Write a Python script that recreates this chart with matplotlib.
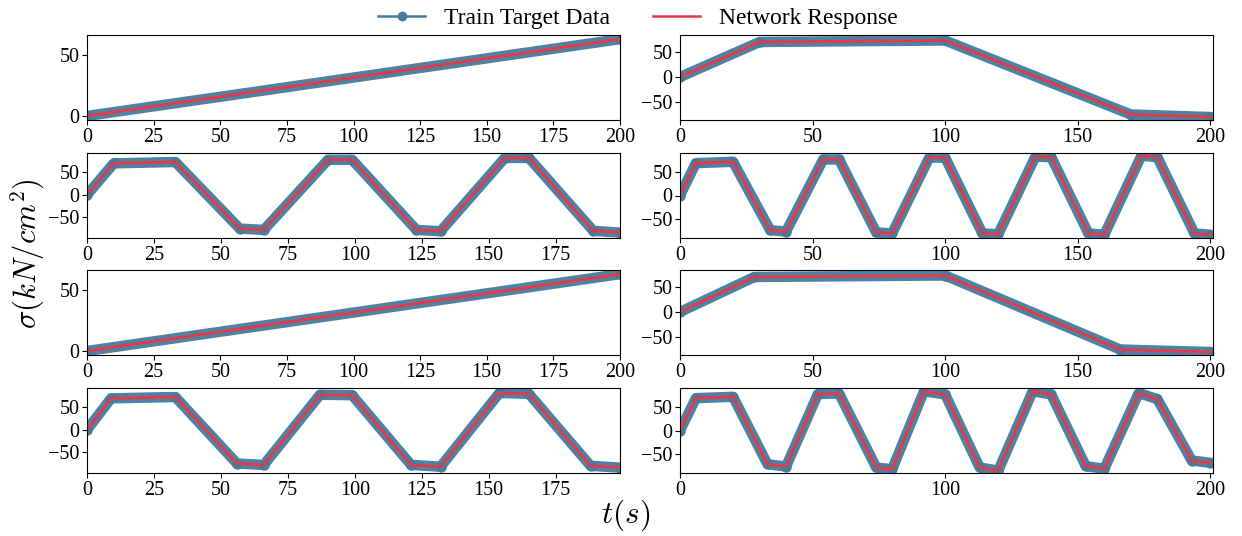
import numpy as np
import matplotlib
matplotlib.use("Agg")
import matplotlib.pyplot as plt
from matplotlib.lines import Line2D

plt.rcParams['font.family'] = ['Liberation Serif', 'DejaVu Serif']
plt.rcParams['mathtext.fontset'] = 'cm'

BLUE = '#457b9d'
RED = '#e63946'

# Knot points (time, stress) for each panel
t1 = [0, 200]
s1 = [0, 63]

t2 = [0, 30, 100, 170, 200]
s2 = [0, 70, 73, -75, -80]

t3 = [0, 10, 33, 57, 66, 90, 99, 123, 132, 156, 165, 189, 199]
s3 = [0, 70, 73, -75, -78, 78, 78, -78, -81, 82, 82, -80, -84]

t4 = [0, 6, 20, 34, 40, 54, 60, 74, 80, 94, 100, 114, 120, 134, 140, 154, 160, 174, 180, 194, 200]
s4 = [0, 70, 73, -75, -78, 78, 78, -80, -82, 82, 82, -82, -84, 84, 83, -82, -85, 86, 83, -82, -85]

t5 = [0, 200]
s5 = [0, 63]

t6 = [0, 28, 100, 166, 200]
s6 = [0, 70, 73, -75, -80]

t7 = [0, 9, 33, 56, 66, 87, 99, 121, 132, 154, 165, 188, 199]
s7 = [0, 70, 73, -75, -78, 78, 77, -78, -82, 82, 80, -80, -84]

t8 = [0, 6, 20, 33, 40, 52, 60, 74, 80, 92, 100, 113, 120, 133, 140, 153, 160, 173, 180, 193, 200]
s8 = [0, 70, 73, -73, -78, 79, 80, -80, -84, 85, 78, -80, -87, 85, 78, -77, -83, 81, 68, -65, -70]

panels = [
    (t1, s1, (0, 200), (-3.3, 66.4), [0, 25, 50, 75, 100, 125, 150, 175, 200], [0, 50]),
    (t2, s2, (0, 201), (-86, 84), [0, 50, 100, 150, 200], [-50, 0, 50]),
    (t3, s3, (0, 199), (-96, 93), [0, 25, 50, 75, 100, 125, 150, 175], [-50, 0, 50]),
    (t4, s4, (0, 201), (-92, 92), [0, 50, 100, 150, 200], [-50, 0, 50]),
    (t5, s5, (0, 200), (-3.3, 66.4), [0, 25, 50, 75, 100, 125, 150, 175, 200], [0, 50]),
    (t6, s6, (0, 201), (-86, 84), [0, 50, 100, 150, 200], [-50, 0, 50]),
    (t7, s7, (0, 199), (-96, 93), [0, 25, 50, 75, 100, 125, 150, 175], [-50, 0, 50]),
    (t8, s8, (0, 201), (-92, 92), [0, 100, 200], [-50, 0, 50]),
]

W, H = 1242, 536
fig = plt.figure(figsize=(W / 100, H / 100), dpi=100)

lefts = [87, 680]
width = 533
tops = [35, 153, 270, 388]
height = 85

for i, (tt, ss, xl, yl, xt, yt) in enumerate(panels):
    r, c = divmod(i, 2)
    ax = fig.add_axes([lefts[c] / W, 1 - (tops[r] + height) / H, width / W, height / H])
    ax.plot(tt, ss, '-', color=BLUE, lw=7.5, alpha=0.95, solid_capstyle='round', solid_joinstyle='round')
    ax.plot(tt, ss, 'o', color=BLUE, ms=7.5, mew=0, alpha=0.95)
    ax.plot(tt, ss, '-', color=RED, lw=2)
    ax.set_xlim(*xl)
    ax.set_ylim(*yl)
    ax.set_xticks(xt)
    ax.set_yticks(yt)
    ax.tick_params(labelsize=14.5, pad=2)

handles = [
    Line2D([], [], color=BLUE, lw=1.8, marker='o', ms=6),
    Line2D([], [], color=RED, lw=1.8),
]
fig.legend(handles, ['Train Target Data', 'Network Response'], loc='center',
           bbox_to_anchor=(638 / W, 1 - 18 / H), ncol=2, frameon=False, fontsize=17,
           columnspacing=1.8, handlelength=2.0, handletextpad=0.8, borderpad=0)

fig.text(626 / W, 1 - 515 / H, r'$t(s)$', ha='center', va='center', fontsize=22.5)
fig.text(27.5 / W, 1 - 254 / H, r'$\sigma(kN/cm^2)$', ha='center', va='center', rotation=90, fontsize=22)

fig.savefig('out.png', dpi=100)
